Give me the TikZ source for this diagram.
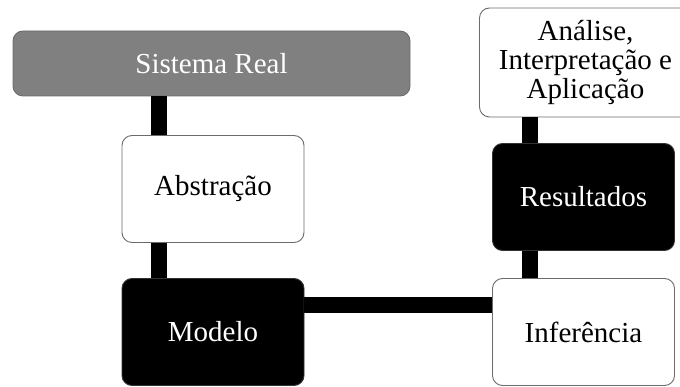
\documentclass[tikz,border=0pt]{standalone}
\usepackage{fontspec}
\setmainfont{Liberation Serif}
\begin{document}
\begin{tikzpicture}[x=1pt,y=-1pt,
  box/.style={draw=black!58, line width=0.9pt, rounded corners=10pt,
    align=center, inner sep=0pt, font=\fontsize{29}{29}\selectfont},
  stage/.style={box, minimum width=182pt, minimum height=107pt},
  light/.style={fill=white, text=black},
  dark/.style={fill=black, text=white, draw=black!80},
  conn/.style={line width=16pt, black}]
  \clip (0,0) rectangle (680,387);
  % stages of the modelling cycle
  \node[box, fill=black!50, text=white, minimum width=397pt, minimum height=65pt]
    (sis) at (211.5,63.5) {Sistema Real};
  \node[stage, light] (abs) at (213,189) {Abstração};
  \node[stage, dark]  (mod) at (213,332) {Modelo};
  \node[stage, light] (inf) at (583.5,332) {Inferência};
  \node[stage, dark]  (res) at (583.5,197) {Resultados};
  \node[box, light, minimum width=212pt, minimum height=109pt]
    (ana) at (585.5,62.5) {Análise,\\Interpretação e\\Aplicação};
  % thick links between the stages
  \draw[conn] ([xshift=37pt]abs.north west) -- ([xshift=37pt]abs.north west |- sis.south);
  \draw[conn] ([xshift=37pt]mod.north west) -- ([xshift=37pt]mod.north west |- abs.south);
  \draw[conn] ([yshift=-27pt]mod.north east) -- ([yshift=-27pt]mod.north east -| inf.west);
  \draw[conn] ([xshift=38pt]inf.north west) -- ([xshift=38pt]inf.north west |- res.south);
  \draw[conn] ([xshift=38pt]res.north west) -- ([xshift=38pt]res.north west |- ana.south);
\end{tikzpicture}
\end{document}
